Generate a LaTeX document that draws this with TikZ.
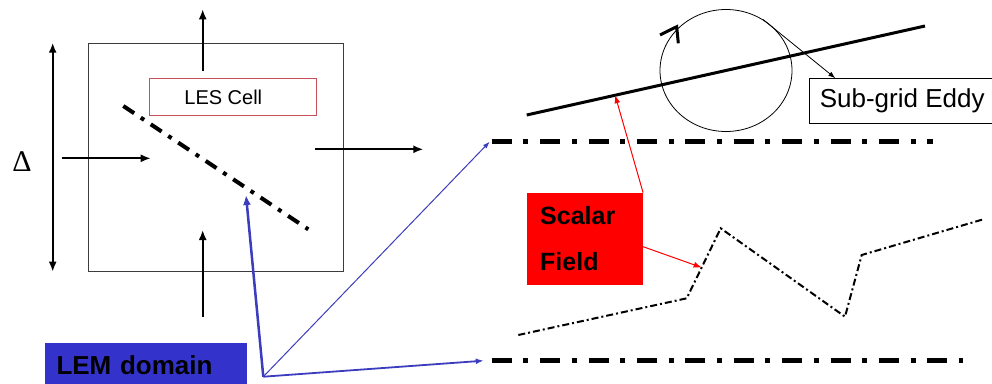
\documentclass[tikz,border=0pt]{standalone}
\usepackage{fontspec}
\setmainfont{Liberation Sans}
\newfontfamily\deltafont{Liberation Serif}
\usepackage{tikz}
\usetikzlibrary{arrows.meta,positioning,shapes.geometric}
\definecolor{lesred}{RGB}{200,80,90}
\definecolor{lemblue}{RGB}{51,51,204}
\definecolor{linkblue}{RGB}{60,60,190}
\definecolor{boxgray}{RGB}{60,60,60}

\begin{document}
\begin{tikzpicture}[x=1pt,y=-1pt,>={Latex[length=10pt,width=8pt]},
  flux/.style={->,line width=1.8pt},
  dashdot/.style={line width=4.5pt,dash pattern=on 20pt off 11.7pt on 5pt off 11.7pt},
  zig/.style={line width=2pt,dash pattern=on 7pt off 3pt on 2pt off 3pt},
  lbl/.style={draw,inner sep=0pt,font=\fontsize{20}{24}\selectfont},
  tag/.style={inner sep=0pt,font=\bfseries\fontsize{25}{46.7}\selectfont}]
  \useasboundingbox (0,0) rectangle (992,383);
  % LES cell
  \node[draw=boxgray,line width=1pt,minimum width=255pt,minimum height=228.4pt](cell) at (216.2,157.5){};
  \node[lbl,draw=lesred,line width=1pt,minimum width=167.3pt,minimum height=36.7pt](les) at (233.3,97.3){LES Cell\hspace*{20pt}};
  \draw[{Latex[length=10pt,width=8pt]}-{Latex[length=10pt,width=8pt]},line width=2pt](52.7,42.7)--(52.7,271.7)
    node[midway,left=20pt,yshift=-4pt,inner sep=0pt,font=\deltafont\fontsize{30}{30}\selectfont](delta){Δ};
  \draw[flux](202.7,70.7)--(202.7,9.3);
  \draw[flux](202.7,316.7)--(202.7,230);
  \draw[flux](61.7,158.3)--(150.7,158.3);
  \draw[flux](315,149.3)--(423.3,149.3);
  \coordinate(dA) at (123.3,106);\coordinate(dB) at (308.3,229.3);
  \draw[line width=4pt,dash pattern=on 13pt off 8pt on 4pt off 8pt](dA)--(dB);
  % LEM domain
  \node[tag,fill=lemblue,anchor=north west,minimum height=46pt,text width=178.4pt,inner xsep=12pt,font=\bfseries\fontsize{26}{30}\selectfont](lem) at (44.3,342.3){LEM domain};
  \coordinate(lsrc) at (263.3,376.7);
  \coordinate(dP) at (246,195);
  \coordinate(hA) at (491.7,141.7);\coordinate(hB) at (933.3,141.7);
  \coordinate(hC) at (491.7,360.7);\coordinate(hD) at (963.3,360.7);
  \draw[dashdot](hA)--(hB);
  \draw[dashdot](hC)--(hD);
  \draw[->,linkblue,line width=2.5pt](lsrc)--(dP);
  \draw[-{Latex[length=7pt,width=5pt]},linkblue,line width=1pt](lsrc)--([xshift=-2pt]hA);
  \draw[-{Latex[length=8pt,width=6pt]},linkblue,line width=1.8pt](lsrc)--([xshift=-8pt]hC);
  % sub-grid eddy
  \coordinate(sA) at (526.7,115);\coordinate(sB) at (925,26);
  \draw[line width=3pt](sA)--(sB) coordinate[pos=0.222](sP);
  \node[draw,ellipse,line width=0.8pt,minimum width=132pt,minimum height=122pt](eddy) at (726,70.5){};
  \draw[line width=3pt](660,35)--(676.7,26.7)--(678.3,43.3);
  \node[lbl,line width=1pt,anchor=west,minimum height=44.6pt,inner xsep=10pt,font=\fontsize{26}{30}\selectfont](ebox) at (809.3,101){Sub-grid Eddy};
  \draw[-{Latex[length=7pt,width=5pt]},line width=0.8pt](eddy.54)--([xshift=26pt]ebox.north west);
  % scalar field
  \node[tag,fill=red,anchor=north west,minimum width=116pt,minimum height=91.6pt,text width=89.4pt,inner xsep=13.3pt,align=left](scalar) at (526.7,192.7){Scalar\\Field};
  \coordinate(z1) at (518.3,335);\coordinate(z2) at (686.7,298.3);\coordinate(z3) at (720.7,228.3);
  \coordinate(z4) at (845,316.7);\coordinate(z5) at (861.7,255);\coordinate(z6) at (983.3,219.3);
  \draw[zig](z1)--(z2)--(z3)--(z4)--(z5)--(z6);
  \path(z2)--(z3) coordinate[pos=0.44](zP);
  \draw[-{Latex[length=8pt,width=6pt]},red,line width=1pt](scalar.north east)--(sP);
  \draw[-{Latex[length=8pt,width=6pt]},red,line width=1pt]([yshift=-8pt]scalar.east)--(zP);
\end{tikzpicture}
\end{document}
